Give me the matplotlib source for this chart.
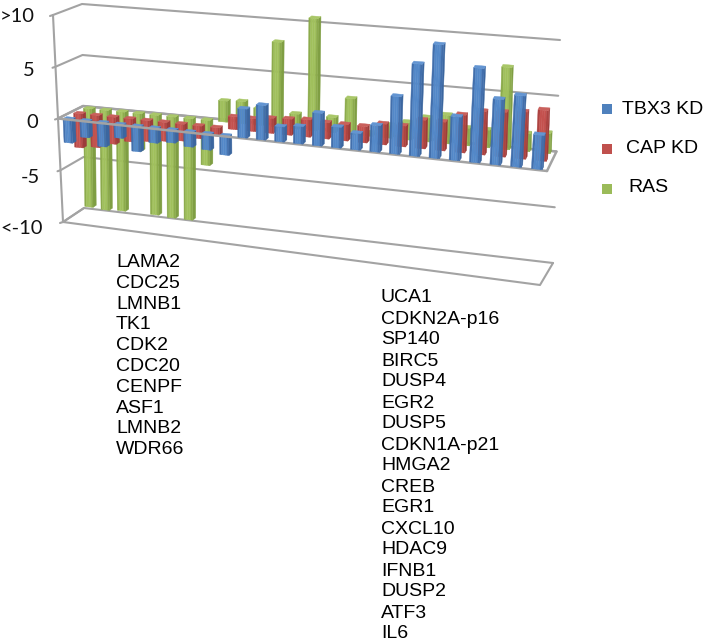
import numpy as np
from matplotlib import pyplot as plt

down_genes = ["LAMA2", "CDC25", "LMNB1", "TK1", "CDK2", "CDC20", "CENPF", "ASF1", "LMNB2", "WDR66"]
up_genes = ["UCA1", "CDKN2A-p16", "SP140", "BIRC5", "DUSP4", "EGR2", "DUSP5", "CDKN1A-p21", "HMGA2",
            "CREB", "EGR1", "CXCL10", "HDAC9", "IFNB1", "DUSP2", "ATF3", "IL6"]

tbx3 = [-2.3, -1.6, -2.3, -1.3, -2.4, -1.4, -1.2, -1.4, -1.5, -1.8, 2.7, 3.2, 1.4,
        1.6, 3.0, 1.9, 1.5, 2.4, 5.2, 8.3, 10.2, 3.9, 8.4, 5.8, 6.3, 3.0]
cap = [-3.3, -3.1, -2.6, -2.2, -2.0, -1.8, -1.6, -1.2, -0.8, 1.2, 1.2, 1.4, 1.5,
       1.6, 1.5, 1.5, 1.5, 1.9, 1.9, 2.6, 2.6, 3.4, 3.9, 4.0, 4.2, 4.5]
ras = [-9.6, -9.7, -9.6, -3.6, -9.6, -9.7, -9.7, -4.3, 2.0, 2.1, 1.6, 8.0, 1.4,
       10.5, 1.4, 3.3, 0.3, 1.2, 1.6, 2.2, 2.6, 1.6, 1.6, 7.4, 1.6, 1.8]

y_ticks = [10, 5, 0, -5, -10]
y_tick_labels = [">10", "5", "0", "-5", "<-10"]

# box corners on the page, (left/right, front/back, top/bottom)
corners = {
    (0, 0, 1): (53, 15), (0, 0, 0): (63, 222),
    (0, 1, 1): (82, 4), (0, 1, 0): (84, 208),
    (1, 0, 1): (554, 57), (1, 0, 0): (540, 285),
    (1, 1, 1): (560, 40), (1, 1, 0): (553, 263),
}


def project(t, d, v):
    # t along the genes, d front to back, v value
    s = t / (t + 1.125 * (1 - t))
    z = (v + 10) / 20
    xy = np.zeros(2)
    for i, wi in ((0, 1 - s), (1, s)):
        for j, wj in ((0, 1 - d), (1, d)):
            for k, wk in ((0, 1 - z), (1, z)):
                xy += wi * wj * wk * np.array(corners[(i, j, k)])
    return xy


fig = plt.figure(figsize=(7.07, 6.42), dpi=100)
ax = fig.add_axes([0, 0, 1, 1])
ax.set(xlim=[0, 707], ylim=[642, 0])
ax.axis("off")

grid_color = "#a3a3a3"


def line(points, zorder=1, lw=1.5):
    points = np.array(points)
    ax.plot(points[:, 0], points[:, 1], color=grid_color, lw=lw, zorder=zorder, solid_capstyle="round")


for tick in y_ticks:
    front = project(0, 0, tick)
    line([front + [-3, 1], front, project(0, 1, tick), project(1, 1, tick)])
line([project(0, 0, 10), project(0, 0, -10)])
line([project(0, 1, -10), project(0, 0, -10), project(1, 0, -10), project(1, 1, -10)])
line([project(0, 0, 0), project(0, 1, 0), project(1, 1, 0), project(1, 0, 0)], lw=1.8)

n = len(tbx3)
half_w = 0.0098
half_d = 0.075
series = [
    (ras, 0.93, ["#8cab4c", "#a0c05c", "#7f9e43", "#a9c768"]),
    (cap, 0.54, ["#ad4341", "#c4514e", "#9c3c3a", "#c9605c"]),
    (tbx3, 0.11, ["#426fac", "#5388c8", "#3b669f", "#6395d2"]),
]
order = [10]


def quad(points, color):
    points = np.array(points)
    order[0] += 1
    ax.fill(points[:, 0], points[:, 1], facecolor=color, edgecolor=color, lw=0.3, zorder=order[0])


def bar(i, value, d, colors):
    t = (i + 0.5) / n
    t0, t1 = t - half_w, t + half_w
    d0, d1 = d - half_d, d + half_d
    lo, hi = min(value, 0), max(value, 0)
    # side, then front in strips so it looks rounded, then the cap
    quad([project(t1, d0, lo), project(t1, d1, lo), project(t1, d1, hi), project(t1, d0, hi)], colors[2])
    edges = np.linspace(t0, t1, 6)
    strip_colors = [colors[0], colors[1], colors[1], colors[1], colors[0]]
    for a, b, c in zip(edges[:-1], edges[1:], strip_colors):
        quad([project(a, d0, lo), project(b, d0, lo), project(b, d0, hi), project(a, d0, hi)], c)
    quad([project(t0, d0, hi), project(t1, d0, hi), project(t1, d1, hi), project(t0, d1, hi)], colors[3])


for values, d, colors in series:
    for i, value in enumerate(values):
        if value < 0:
            bar(i, value, d, colors)

order[0] += 1
line([project(0, 0, 0), project(1, 0, 0)], zorder=order[0], lw=1.8)

for values, d, colors in series:
    for i, value in enumerate(values):
        if value >= 0:
            bar(i, value, d, colors)

tick_label_right = [35, 35, 38, 40, 43]
tick_label_drop = [2, 4, 4.5, 7, 7]
for tick, label, right, drop in zip(y_ticks, y_tick_labels, tick_label_right, tick_label_drop):
    ax.text(right, project(0, 0, tick)[1] + drop, label, ha="right", va="center",
            family="Lato", fontsize=14.5, color="#111111", zorder=500)

for i, gene in enumerate(down_genes):
    ax.text(116, 262.5 + i * 20.8, gene, ha="left", va="center", family="Liberation Sans",
            fontsize=14, color="black")
for i, gene in enumerate(up_genes):
    ax.text(381, 298 + i * 21, gene, ha="left", va="center", family="Liberation Sans",
            fontsize=14, color="black")

legend_names = ["TBX3 KD", "CAP KD", "RAS"]
legend_colors = ["#4f81bd", "#c0504d", "#9bbb59"]
legend_text_x = [622, 626, 628]
for i, name in enumerate(legend_names):
    ax.scatter([606.5], [108.5 + i * 40.2], marker="s", s=62, color=legend_colors[i], linewidths=0)
    ax.text(legend_text_x[i], 109 + i * 39.5, name, ha="left", va="center", family="Liberation Sans",
            fontsize=14, color="black")

fig.savefig("out.png", dpi=100)
